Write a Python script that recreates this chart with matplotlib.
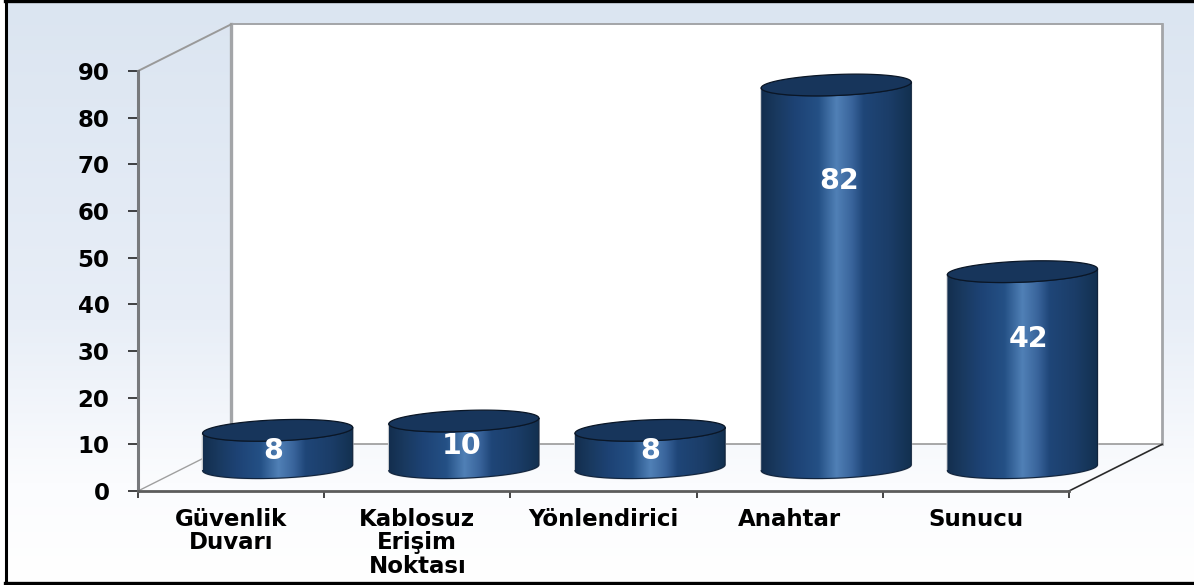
import numpy as np
import matplotlib
matplotlib.use("Agg")
import matplotlib.pyplot as plt
from matplotlib.colors import LinearSegmentedColormap
from matplotlib.patches import Polygon, Rectangle

categories = ["Güvenlik\nDuvarı", "Kablosuz\nErişim\nNoktası", "Yönlendirici", "Anahtar", "Sunucu"]
values = [8, 10, 8, 82, 42]
label_x = [0.725, 1.74, 2.75, 3.765, 4.785]
label_heights = [8.6, 9.6, 8.6, 66.4, 32.6]
y_ticks = [0, 10, 20, 30, 40, 50, 60, 70, 80, 90]

W, H = 1194, 585
depth_x, depth_y = 0.5, 10      # shift of back wall from front plane, in data units
half_w = 0.403
cap_b = 2.25
cap_tilt = 0.62

plt.rcParams["font.family"] = ["DejaVu Sans"]
plt.rcParams["font.weight"] = "bold"

fig = plt.figure(figsize=(W / 100, H / 100), dpi=100, facecolor="white")

# page background with vertical gradient and black frame
bg = fig.add_axes([0, 0, 1, 1])
bg.set_axis_off()
bg_cmap = LinearSegmentedColormap.from_list("bg", [
    (0.0, "#dbe5f1"), (0.55, "#e8eef7"), (0.83, "#fbfcfe"), (1.0, "#ffffff")])
bg.imshow(np.linspace(0, 1, 256).reshape(-1, 1), cmap=bg_cmap, aspect="auto",
          extent=(6 / W, 1, 3 / H, 1), transform=bg.transAxes)
bg.set_xlim(0, 1)
bg.set_ylim(0, 1)
bg.plot([5.5 / W, 5.5 / W], [2 / H, 1], color="black", lw=2.2)
bg.plot([5 / W, 1], [1 - 1 / H, 1 - 1 / H], color="black", lw=2.4)
bg.plot([5 / W, 1], [2.5 / H, 2.5 / H], color="black", lw=2.4)

# front plane of the chart
ax = fig.add_axes([138 / W, (H - 491) / H, 931 / W, 420 / H])
ax.patch.set_visible(False)
n = len(categories)
ax.set_xlim(0, n)
ax.set_ylim(0, 90)

dx, dy = depth_x, depth_y
ax.add_patch(Rectangle((dx, dy), n, 90, facecolor="white", edgecolor="none", zorder=1, clip_on=False))

wall_c = "#a3a5a8"
ax.plot([dx, dx], [dy, 90 + dy], color=wall_c, lw=2.4, zorder=2, clip_on=False)
ax.plot([dx, n + dx], [90 + dy, 90 + dy], color=wall_c, lw=1.4, zorder=2, clip_on=False)
ax.plot([n + dx, n + dx], [90 + dy, dy], color=wall_c, lw=2.0, zorder=2, clip_on=False)
ax.plot([dx, n + dx], [dy, dy], color="#999999", lw=1.2, zorder=2, clip_on=False)
ax.plot([0, dx], [90, 90 + dy], color="#999999", lw=1.4, zorder=2, clip_on=False)
ax.plot([0, dx], [0, dy], color="#a0a0a0", lw=1.0, zorder=2, clip_on=False)
ax.plot([n, n + dx], [0, dy], color="#2a2a2a", lw=1.2, zorder=2, clip_on=False)

# cylinders
cyl_cmap = LinearSegmentedColormap.from_list("cyl", [
    (0.0, "#132e4e"), (0.10, "#19395f"), (0.22, "#1d4274"), (0.38, "#245085"),
    (0.50, "#5080b6"), (0.60, "#3a659c"), (0.68, "#1f4678"), (0.85, "#1b3d68"), (1.0, "#12304f")])
t = np.linspace(0, 2 * np.pi, 121)
grad = np.linspace(0, 1, 256).reshape(1, -1)

for i, v in enumerate(values):
    cx = i + 0.75
    base = dy / 2
    top = base + v
    tb = np.linspace(np.pi, 2 * np.pi, 60)
    xb = cx + half_w * np.cos(tb)
    yb = base + cap_b * np.sin(tb) + cap_tilt * np.cos(tb)
    xt = cx + half_w * np.cos(tb[::-1])
    yt = top + cap_b * np.sin(tb[::-1]) + cap_tilt * np.cos(tb[::-1])
    outline = np.column_stack([np.r_[xb, xt], np.r_[yb, yt]])
    halo = Polygon(outline, closed=True, facecolor="none", edgecolor="#c4c7cb", lw=1.3,
                   zorder=3, clip_on=False)
    ax.add_patch(halo)
    body = Polygon(outline, closed=True, facecolor="none", edgecolor="none", zorder=3,
                   transform=ax.transData)
    ax.add_patch(body)
    img = ax.imshow(grad, cmap=cyl_cmap, aspect="auto", zorder=4,
                    extent=(cx - half_w, cx + half_w, base - cap_b - 1, top + cap_b + 1))
    img.set_clip_path(body)
    img.set_clip_box(fig.bbox)  # last bar pokes past the front plane
    ax.plot(outline[:, 0], outline[:, 1], color="#10233c", lw=0.8, zorder=5, clip_on=False)
    cap = Polygon(np.column_stack([cx + half_w * np.cos(t),
                                   top + cap_b * np.sin(t) + cap_tilt * np.cos(t)]),
                  closed=True, facecolor="#17355b", edgecolor="#0a1626", lw=0.9, zorder=6,
                  clip_on=False)
    ax.add_patch(cap)
    ax.text(label_x[i], label_heights[i], str(v), color="white", fontsize=20.5,
            fontweight="bold", ha="center", va="center", zorder=7)

ax.set_xlim(0, n)
ax.set_ylim(0, 90)

# axes
for side in ["top", "right"]:
    ax.spines[side].set_visible(False)
ax.spines["left"].set_color("#77797c")
ax.spines["left"].set_linewidth(2.2)
ax.spines["bottom"].set_color("#5c5c5c")
ax.spines["bottom"].set_linewidth(2.0)
ax.spines["left"].set_zorder(8)
ax.spines["bottom"].set_zorder(8)

ax.set_yticks(y_ticks)
ax.set_xticks(np.arange(n + 1))
ax.set_xticklabels([])
ax.set_xticks(np.arange(n) + 0.5, minor=True)
ax.set_xticklabels(categories, minor=True, linespacing=1.03)
ax.tick_params(axis="y", length=7, width=1.1, color="#111111", labelsize=16.5, pad=13.5)
ax.tick_params(axis="x", which="major", length=5, width=1.1, color="#111111")
ax.tick_params(axis="x", which="minor", length=0, labelsize=16.5, pad=12)

fig.savefig("out.png", dpi=100)
